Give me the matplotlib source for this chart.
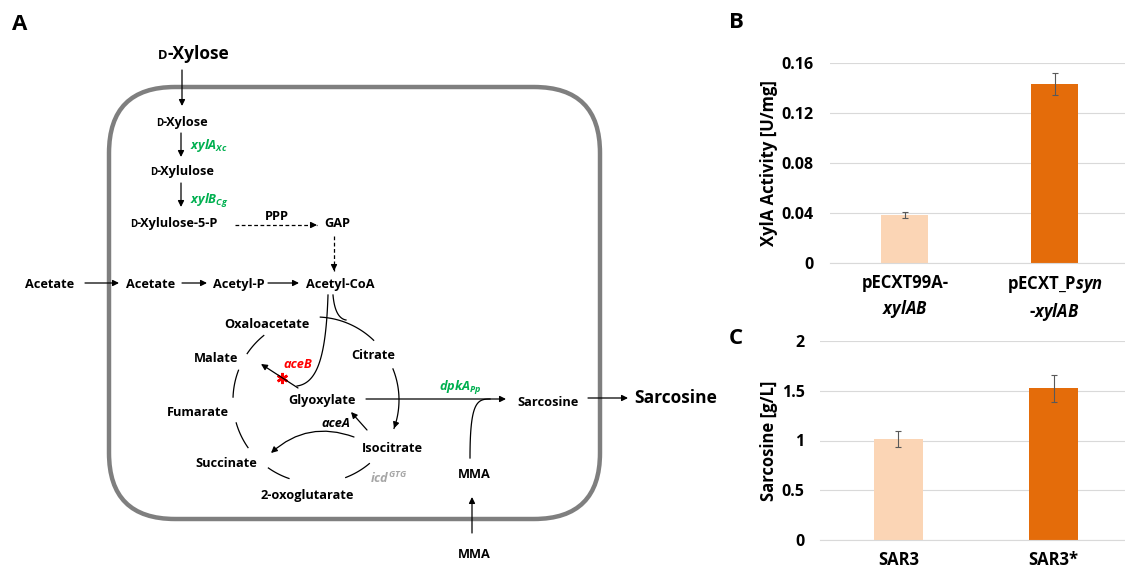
import numpy as np
import matplotlib
matplotlib.use('Agg')
import matplotlib.pyplot as plt
from matplotlib.patches import FancyBboxPatch

plt.rcParams['font.family'] = ['Open Sans', 'DejaVu Sans']
plt.rcParams['font.weight'] = 'bold'
plt.rcParams['mathtext.fontset'] = 'custom'
plt.rcParams['mathtext.rm'] = 'Open Sans:bold'
plt.rcParams['mathtext.it'] = 'Open Sans:italic:bold'
plt.rcParams['mathtext.bf'] = 'Open Sans:bold'

# Panel B: XylA activity
b_labels = ['pECXT99A-\n$\\mathit{xylAB}$', 'pECXT_P$\\mathit{syn}$\n-$\\mathit{xylAB}$']
b_values = [0.0385, 0.1432]
b_err = [0.0022, 0.0090]
b_ticks = [0, 0.04, 0.08, 0.12, 0.16]
b_ticklabels = ['0', '0.04', '0.08', '0.12', '0.16']

# Panel C: sarcosine titer
c_labels = ['SAR3', 'SAR3*']
c_values = [1.017, 1.523]
c_err = [0.083, 0.137]
c_ticks = [0, 0.5, 1, 1.5, 2]
c_ticklabels = ['0', '0.5', '1', '1.5', '2']

bar_colors = ['#FBD5B5', '#E46C0A']
GREEN = '#00B050'
FS = 9.2      # pathway labels
FS_BIG = 12.5 # outside substrates/products

W, H = 1125, 570
fig = plt.figure(figsize=(W / 100, H / 100), dpi=100)

# ---------- panel A: pathway, drawn in pixel coordinates ----------
axA = fig.add_axes([0, 0, 1, 1])
axA.set_xlim(0, W)
axA.set_ylim(H, 0)
axA.axis('off')


def label(x, y, s, size=FS, color='black', ha='center', style='normal'):
    # y is the visual middle of the capitals
    axA.text(x, y + 0.5 * size, s, fontsize=size, color=color, ha=ha,
             va='baseline', style=style, fontweight='bold')


def dlabel(xs, y, rest, size=FS):
    # small capital D followed by the rest of the name
    axA.text(xs, y + 0.5 * size, 'D', fontsize=size * 0.75, ha='right',
             va='baseline', fontweight='bold')
    axA.text(xs, y + 0.5 * size, rest, fontsize=size, ha='left',
             va='baseline', fontweight='bold')


def arrow(p0, p1, rad=0.0):
    axA.annotate('', xy=p1, xytext=p0,
                 arrowprops=dict(arrowstyle='-|>', color='black', lw=0.9,
                                 mutation_scale=9, shrinkA=0, shrinkB=0,
                                 connectionstyle=f'arc3,rad={rad}'))


def dashed_arrow(p0, p1):
    axA.plot([p0[0], p1[0]], [p0[1], p1[1]], color='black', lw=0.9, ls=(0, (3, 2)))
    d = np.array(p1, float) - np.array(p0, float)
    d = d / np.hypot(*d)
    arrow(tuple(np.array(p1) - 3 * d), p1)


def bezier(pts, n=60):
    pts = np.array(pts, float)
    t = np.linspace(0, 1, n)[:, None]
    if len(pts) == 3:
        return (1 - t) ** 2 * pts[0] + 2 * (1 - t) * t * pts[1] + t ** 2 * pts[2]
    return ((1 - t) ** 3 * pts[0] + 3 * (1 - t) ** 2 * t * pts[1]
            + 3 * (1 - t) * t ** 2 * pts[2] + t ** 3 * pts[3])


# cell membrane
cell = FancyBboxPatch((109, 87), 600 - 109, 519 - 87,
                      boxstyle='round,pad=0,rounding_size=66',
                      fc='none', ec='#7F7F7F', lw=3.2)
axA.add_patch(cell)

axA.text(20, 24, 'A', fontsize=16, ha='center', va='center', fontweight='bold')

# xylose branch
dlabel(167, 53, '-Xylose', size=FS_BIG)
dlabel(163, 121, '-Xylose')
dlabel(157, 170, '-Xylulose')
dlabel(137, 222, '-Xylulose-5-P')
arrow((182, 70), (182, 106))
arrow((181, 133), (181, 157))
arrow((181, 183), (181, 207))
label(190, 144, '$\\mathit{xylA}_{\\mathit{Xc}}$', color=GREEN, ha='left')
label(190, 199, '$\\mathit{xylB}_{\\mathit{Cg}}$', color=GREEN, ha='left')
label(277, 215, 'PPP')
dashed_arrow((235, 225), (317, 225))
label(337, 222, 'GAP')
dashed_arrow((334, 236), (334, 271))

# acetate branch and TCA metabolites
nodes = [('Acetate', 50, 283), ('Acetate', 151, 283), ('Acetyl-P', 239, 283),
         ('Acetyl-CoA', 340, 283), ('Oxaloacetate', 267, 323), ('Malate', 216, 357),
         ('Citrate', 373, 354), ('Glyoxylate', 322, 399), ('Fumarate', 198, 411),
         ('Isocitrate', 392, 447), ('Succinate', 226, 462), ('2-oxoglutarate', 307, 494),
         ('Sarcosine', 548, 401), ('MMA', 474, 473), ('MMA', 474, 553)]
for name, x, y in nodes:
    label(x, y, name)
label(676, 397, 'Sarcosine', size=FS_BIG)

arrow((85, 283), (119, 283))
arrow((182, 283), (207, 283))
arrow((268, 283), (299, 283))

# TCA cycle arcs
cx, cy, r = 316, 400, 83
arcs = [(87, 46, False), (22, -20, True), (-50, -69, False), (-109, -125, False),
        (-145, -164, False), (178, 159, False), (146, 129, False)]
for a0, a1, head in arcs:
    t = np.radians(np.linspace(a0, a1, 40))
    xs, ys = cx + r * np.cos(t), cy - r * np.sin(t)
    axA.plot(xs, ys, color='black', lw=0.9)
    if head:
        arrow((xs[-3], ys[-3]), (xs[-1], ys[-1]))

# acetyl-CoA into the cycle and into the glyoxylate shunt
c1 = bezier([(328, 295), (326, 355), (318, 383), (297, 386)])
axA.plot(c1[:, 0], c1[:, 1], color='black', lw=0.9)
c2 = bezier([(333, 295), (335, 318), (346, 320)])
axA.plot(c2[:, 0], c2[:, 1], color='black', lw=0.9)

# glyoxylate shunt
arrow((298, 388), (261, 364))
axA.plot([282], [378], marker=(6, 2, 0), color='red', ms=8, mew=1.8)
label(298, 363, 'aceB', color='red', style='italic')
arrow((367, 430), (351, 412))
label(336, 422, 'aceA', style='italic')
arrow((354, 437), (271, 453), rad=0.3)
label(370, 478, '$\\mathit{icd}^{\\mathit{GTG}}$', color='#A6A6A6', ha='left')

# sarcosine formation
arrow((366, 399), (506, 399))
label(460, 386, '$\\mathit{dpkA}_{\\mathit{Pp}}$', color=GREEN)
c3 = bezier([(470, 458), (470, 402), (477, 399), (490, 399)])
axA.plot(c3[:, 0], c3[:, 1], color='black', lw=0.9)
arrow((472, 533), (472, 497))
arrow((588, 398), (628, 398))


# ---------- panels B and C: bar charts ----------
def bar_panel(rect, labels, values, err, ticks, ticklabels, ylabel, xlim, width, ypad, labx, xpad):
    ax = fig.add_axes(rect)
    x = np.arange(len(values))
    ax.bar(x, values, width=width, color=bar_colors, yerr=err,
           error_kw=dict(ecolor='#595959', elinewidth=0.8, capsize=2, capthick=0.8))
    ax.set_xlim(*xlim)
    ax.set_ylim(ticks[0], ticks[-1])
    ax.set_yticks(ticks, ticklabels)
    ax.set_xticks(x, labels)
    ax.yaxis.grid(True, color='#D9D9D9', lw=0.8)
    ax.set_axisbelow(True)
    for s in ['top', 'right', 'left']:
        ax.spines[s].set_visible(False)
    ax.spines['bottom'].set_color('#D9D9D9')
    ax.tick_params(axis='y', length=0, labelsize=11.5, pad=ypad)
    ax.tick_params(axis='x', length=0, labelsize=12, pad=xpad)
    for t in ax.get_xticklabels():
        t.set_linespacing(1.35)
    ax.set_ylabel(ylabel, fontsize=12, fontweight='bold')
    ax.yaxis.set_label_coords(labx, 0.5)
    return ax


bar_panel([830 / W, (H - 263) / H, 295 / W, 200 / H], b_labels, b_values, b_err,
          b_ticks, b_ticklabels, 'XylA Activity [U/mg]', (-0.5, 1.47), 0.315, 12, -0.176, 8)
bar_panel([820 / W, (H - 540) / H, 305 / W, 199 / H], c_labels, c_values, c_err,
          c_ticks, c_ticklabels, 'Sarcosine [g/L]', (-0.506, 1.46), 0.316, 11, -0.138, 8)

axA.text(736, 23, 'B', fontsize=16, ha='center', va='center', fontweight='bold')
axA.text(736, 339, 'C', fontsize=16, ha='center', va='center', fontweight='bold')

fig.savefig('out.png', dpi=100)
